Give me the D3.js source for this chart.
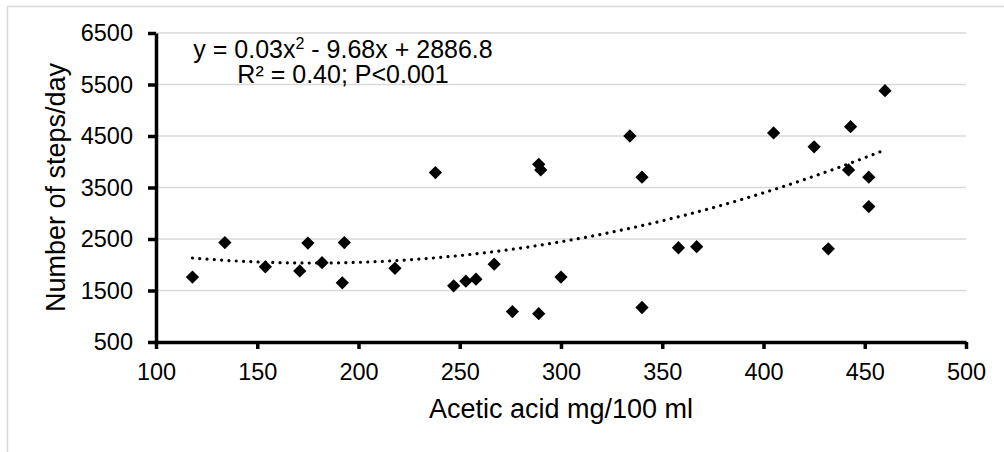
<!DOCTYPE html>
<html>
<head>
<meta charset="utf-8">
<script src="https://cdn.jsdelivr.net/npm/d3@7"></script>
<style>
  html, body { margin: 0; padding: 0; background: #fff; }
  svg { display: block; font-family: "Liberation Sans", Arial, sans-serif; }
</style>
</head>
<body>
<svg id="chart" width="1004" height="452"></svg>
<script>
// ---- data ----
const aceticAcid = [118, 134, 154, 171, 175, 182, 193, 192, 218, 238, 247, 253, 258, 267, 276, 289,
                    289, 290, 300, 334, 340, 340, 358, 367, 405, 425, 432, 443, 442, 452, 452, 460];
const stepsPerDay = [1760, 2430, 1960, 1880, 2420, 2040, 2430, 1650, 1930, 3790, 1590, 1680, 1720, 2010, 1090, 1050,
                     3950, 3840, 1760, 4500, 3700, 1170, 2330, 2350, 4560, 4290, 2310, 4680, 3840, 3700, 3130, 5380];
const xTicks = [100, 150, 200, 250, 300, 350, 400, 450, 500];
const yTicks = [500, 1500, 2500, 3500, 4500, 5500, 6500];
const xTitle = "Acetic acid mg/100 ml";
const yTitle = "Number of steps/day";
const eqLine1 = ["y = 0.03x", "2", " - 9.68x + 2886.8"];
const eqLine2 = "R² = 0.40; P<0.001";

const svg = d3.select("#chart");
const plot = { left: 156, right: 966, top: 33, bottom: 342 };

const x = d3.scaleLinear().domain([100, 500]).range([plot.left, plot.right]);
const y = d3.scaleLinear().domain([500, 6500]).range([plot.bottom, plot.top]);

// outer chart border (extends past the visible frame)
svg.append("rect")
  .attr("x", 7.5).attr("y", 6.5).attr("width", 1200).attr("height", 600)
  .attr("fill", "none").attr("stroke", "#d9d9d9").attr("stroke-width", 1.5);

// gridlines
svg.append("g").selectAll("line").data(yTicks.filter(t => t !== 500)).join("line")
  .attr("x1", plot.left).attr("x2", plot.right)
  .attr("y1", d => y(d)).attr("y2", d => y(d))
  .attr("stroke", "#d9d9d9").attr("stroke-width", 1.5);

// quadratic least-squares trendline
function quadFit(xs, ys) {
  const n = xs.length;
  let s = [0, 0, 0, 0, 0], t = [0, 0, 0];
  for (let i = 0; i < n; i++) {
    const xi = xs[i], yi = ys[i];
    for (let k = 0; k <= 4; k++) s[k] += Math.pow(xi, k);
    for (let k = 0; k <= 2; k++) t[k] += Math.pow(xi, k) * yi;
  }
  const A = [[s[0], s[1], s[2], t[0]], [s[1], s[2], s[3], t[1]], [s[2], s[3], s[4], t[2]]];
  for (let i = 0; i < 3; i++) {
    let p = i;
    for (let r = i + 1; r < 3; r++) if (Math.abs(A[r][i]) > Math.abs(A[p][i])) p = r;
    [A[i], A[p]] = [A[p], A[i]];
    for (let r = 0; r < 3; r++) {
      if (r === i) continue;
      const f = A[r][i] / A[i][i];
      for (let c = i; c < 4; c++) A[r][c] -= f * A[i][c];
    }
  }
  return [A[0][3] / A[0][0], A[1][3] / A[1][1], A[2][3] / A[2][2]];
}
const [c0, c1, c2] = quadFit(aceticAcid, stepsPerDay);
const [xmin, xmax] = d3.extent(aceticAcid);
const trendX = d3.range(0, 101).map(i => xmin + (xmax - xmin) * i / 100);
svg.append("path")
  .datum(trendX)
  .attr("d", d3.line().x(d => x(d)).y(d => y(c0 + c1 * d + c2 * d * d)))
  .attr("fill", "none").attr("stroke", "#000").attr("stroke-width", 3.2)
  .attr("stroke-linecap", "round").attr("stroke-dasharray", "0.01 7.3");

// axes
const axisStroke = 3.5;
const fmt = d3.format("d");
const xAxis = svg.append("g").attr("transform", `translate(0,${plot.bottom})`)
  .call(d3.axisBottom(x).tickValues(xTicks).tickFormat(fmt).tickSize(7).tickPadding(14).tickSizeOuter(0));
const yAxis = svg.append("g").attr("transform", `translate(${plot.left},0)`)
  .call(d3.axisLeft(y).tickValues(yTicks).tickFormat(fmt).tickSize(8).tickPadding(15).tickSizeOuter(0));
[xAxis, yAxis].forEach(g => {
  g.select(".domain").attr("stroke", "#000").attr("stroke-width", axisStroke);
  g.selectAll(".tick line").attr("stroke", "#000").attr("stroke-width", axisStroke);
  g.selectAll(".tick text").attr("fill", "#000").style("font-size", "23.5px")
    .style("font-family", '"Liberation Sans", Arial, sans-serif');
});
xAxis.selectAll(".tick text").attr("dy", "0.71em");

// markers
svg.append("g").selectAll("path").data(aceticAcid.map((v, i) => [v, stepsPerDay[i]])).join("path")
  .attr("d", d3.symbol(d3.symbolSquare, 88)())
  .attr("transform", d => `translate(${x(d[0])},${y(d[1])}) rotate(45)`)
  .attr("fill", "#000");

// axis titles
svg.append("text")
  .attr("x", (plot.left + plot.right) / 2).attr("y", 418)
  .attr("text-anchor", "middle").style("font-size", "27px").attr("fill", "#000")
  .text(xTitle);
svg.append("text")
  .attr("transform", `translate(65,${(plot.top + plot.bottom) / 2}) rotate(-90)`)
  .attr("text-anchor", "middle").style("font-size", "27px").attr("fill", "#000")
  .text(yTitle);

// equation annotation
const eq = svg.append("text").attr("x", 343).attr("y", 57.5)
  .attr("text-anchor", "middle").style("font-size", "25px").attr("fill", "#000");
eq.append("tspan").text(eqLine1[0]);
eq.append("tspan").attr("dy", -9).style("font-size", "16px").text(eqLine1[1]);
eq.append("tspan").attr("dy", 9).text(eqLine1[2]);
svg.append("text").attr("x", 343).attr("y", 83)
  .attr("text-anchor", "middle").style("font-size", "25px").attr("fill", "#000")
  .text(eqLine2);
</script>
</body>
</html>
